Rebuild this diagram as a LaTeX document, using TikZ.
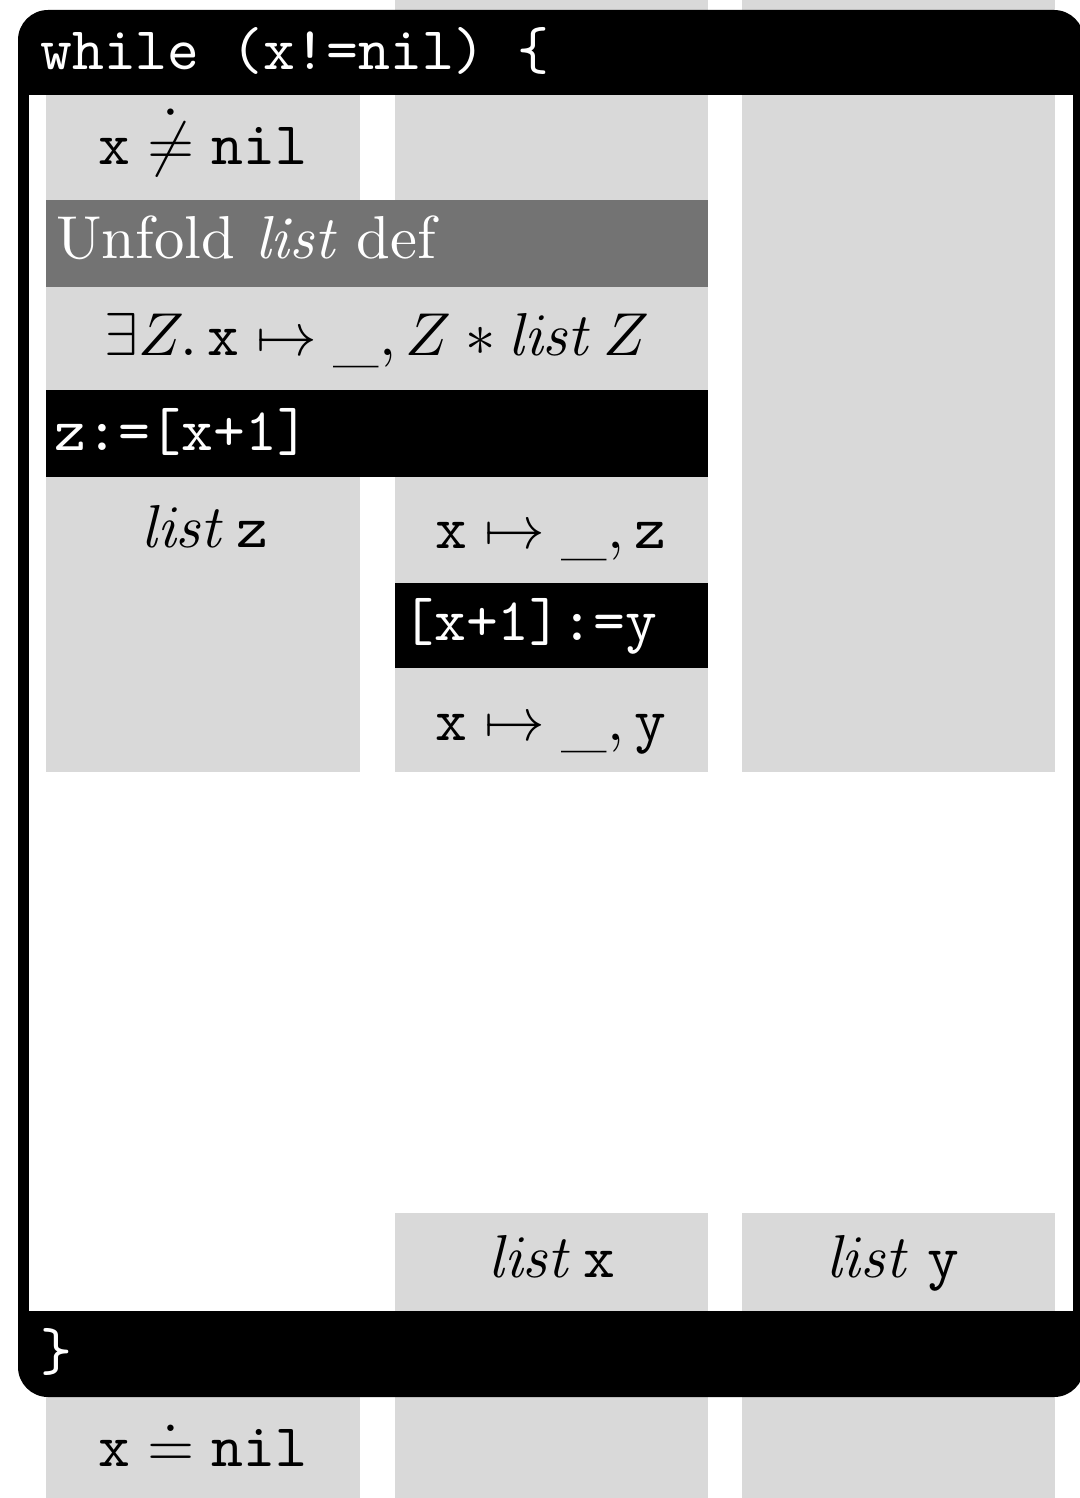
\documentclass[tikz,border=0pt]{standalone}
\usepackage{graphicx}
\usepackage{amsmath}
\definecolor{cellgrey}{HTML}{D9D9D9}
\definecolor{unfoldgrey}{HTML}{737373}
\newcommand{\bigtxt}[1]{\scalebox{3.03}{#1}}
\newcommand{\anyval}{\mathord{\raisebox{-0.7pt}{\_}}}
\begin{document}
\begin{tikzpicture}[x=0.5pt,y=-0.5pt,
  txt/.style={font=\normalsize, inner sep=0pt, anchor=base},
  ltxt/.style={txt, anchor=base west},
  wtxt/.style={ltxt, text=white}]
\useasboundingbox (0,0) rectangle (1080,1498);
% column cells
\fill[cellgrey] (46,95) rectangle (360,772);
\fill[cellgrey] (395,0) rectangle (708,772);
\fill[cellgrey] (742,0) rectangle (1055,772);
\fill[unfoldgrey] (46,200) rectangle (708,287);
\fill[cellgrey] (46,287) rectangle (708,390);
\fill[black] (46,390) rectangle (708,477);
\fill[black] (395,583) rectangle (708,668);
\fill[cellgrey] (395,1213) rectangle (708,1498);
\fill[cellgrey] (742,1213) rectangle (1055,1498);
\fill[cellgrey] (46,1397) rectangle (360,1498);
% frame
\fill[black] (18,95) rectangle (29,1311);
\fill[black] (1073,95) rectangle (1084,1311);
\fill[black, rounded corners=15pt] (18,10) rectangle (1084,95);
\fill[black] (18,60) rectangle (1084,95);
\fill[black, rounded corners=15pt] (18,1311) rectangle (1084,1397);
\fill[black] (18,1311) rectangle (1084,1350);
% texts
\node[wtxt] (whilet) at (40,70) {\bigtxt{\ttfamily while (x!=nil) \{}};
\node[txt] (neq) at (203,165) {\bigtxt{$\mathtt{x} \mathrel{\dot{\neq}} \mathtt{nil}$}};
\node[wtxt] (unfold) at (56,258) {\bigtxt{Unfold \textit{list} def}};
\node[txt] (exists) at (377,355) {\bigtxt{$\exists Z.\, \mathtt{x} \mapsto \anyval, Z * \mathit{list}\, Z$}};
\node[wtxt] (zass) at (54,450) {\bigtxt{\ttfamily z:=[x+1]}};
\node[txt] (listz) at (205,547) {\bigtxt{$\mathit{list}\,\mathtt{z}$}};
\node[txt] (ptsz) at (551,548) {\bigtxt{$\mathtt{x} \mapsto \anyval, \mathtt{z}$}};
\node[wtxt] (mut) at (402,640) {\bigtxt{\ttfamily [x+1]:=y}};
\node[txt] (ptsy) at (551,740) {\bigtxt{$\mathtt{x} \mapsto \anyval, \mathtt{y}$}};
\node[txt] (listx) at (552,1277) {\bigtxt{$\mathit{list}\,\mathtt{x}$}};
\node[txt] (listy) at (893,1277) {\bigtxt{$\mathit{list}\;\mathtt{y}$}};
\node[wtxt] (close) at (40,1370) {\bigtxt{\ttfamily \}}};
\node[txt] (doteq) at (203,1466) {\bigtxt{$\mathtt{x} \doteq \mathtt{nil}$}};
\end{tikzpicture}
\end{document}
